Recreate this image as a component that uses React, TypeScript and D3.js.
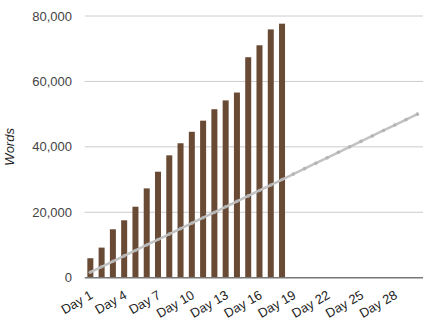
import React from "react";
import * as d3 from "d3";

const days: string[] = Array.from({ length: 30 }, (_, i) => `Day ${i + 1}`);
const words: number[] = [
  5950, 9200, 14800, 17550, 21700, 27300, 32400, 37400, 41100, 44600,
  48000, 51500, 54200, 56600, 67400, 71050, 75900, 77650,
];
const target: number[] = [
  1667, 3333, 5000, 6667, 8333, 10000, 11667, 13333, 15000, 16667,
  18333, 20000, 21667, 23333, 25000, 26667, 28333, 30000, 31667, 33333,
  35000, 36667, 38333, 40000, 41667, 43333, 45000, 46667, 48333, 50000,
];
const yTicks: number[] = [0, 20000, 40000, 60000, 80000];
const xTickDays: string[] = days.filter((_, i) => i % 3 === 0);

export default function App() {
  const W = 430, H = 321;
  const left = 84.7, right = 423, top = 16, bottom = 277.7;
  const x = d3.scaleBand<string>().domain(days).range([left, right]).paddingInner(0).paddingOuter(0);
  const y = d3.scaleLinear().domain([0, 80000]).range([bottom, top]);
  const bw = 6;
  const cx = (d: string) => (x(d) as number) + x.bandwidth() / 2;
  const fmt = d3.format(",");
  const line = d3
    .line<number>()
    .x((_, i) => cx(days[i]))
    .y((v) => y(v));

  return (
    <svg width={W} height={H} style={{ position: "absolute", left: 0, top: 0, fontFamily: "Arial, 'Liberation Sans', sans-serif" }}>
      <rect width={W} height={H} fill="#fff" />
      {yTicks.map((t) => (
        <g key={t}>
          {t !== 0 && <line x1={left} x2={right} y1={y(t)} y2={y(t)} stroke="#cccccc" strokeWidth={1} />}
          <text x={72} y={y(t)} dy="0.35em" textAnchor="end" fontSize={13} fill="#444">
            {fmt(t)}
          </text>
        </g>
      ))}
      {words.map((v, i) => (
        <rect
          key={i}
          x={cx(days[i]) - bw / 2}
          y={y(v)}
          width={bw}
          height={bottom - y(v)}
          fill="#694a34"
        />
      ))}
      <path d={line(target) || ""} fill="none" stroke="#c2c2c2" strokeWidth={2.5} />
      {target.map((v, i) => (
        <circle key={i} cx={cx(days[i])} cy={y(v)} r={1.8} fill="#b4b4b4" />
      ))}
      <line x1={left} x2={right} y1={bottom} y2={bottom} stroke="#777" strokeWidth={1.5} />
      {xTickDays.map((d) => (
        <text
          key={d}
          transform={`translate(${cx(d) - 1},${bottom + 12}) rotate(-30)`}
          textAnchor="end"
          dy="0.7em"
          fontSize={13}
          fill="#222"
        >
          {d}
        </text>
      ))}
      <text
        transform={`translate(14,${(top + bottom) / 2}) rotate(-90)`}
        textAnchor="middle"
        fontSize={13}
        fontStyle="italic"
        fill="#222"
      >
        Words
      </text>
    </svg>
  );
}
